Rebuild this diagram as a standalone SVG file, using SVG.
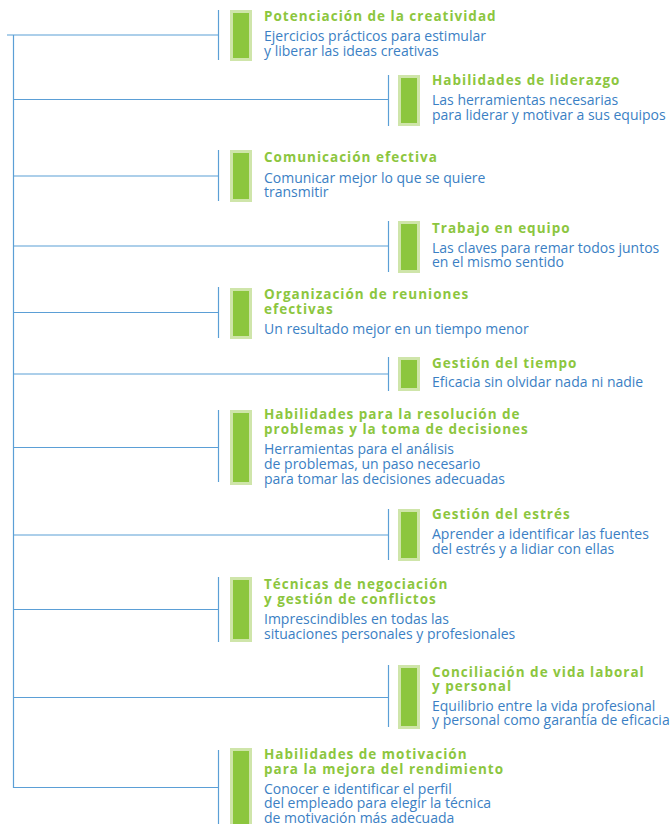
<svg xmlns="http://www.w3.org/2000/svg" width="671" height="824" viewBox="0 0 671 824">
<style>
.ln{stroke:#5b9fd6;stroke-width:1.2;fill:none}
.bar{fill:#8cc63e;stroke:#cfe5aa;stroke-width:3}
.t{font-family:"Open Sans","DejaVu Sans",sans-serif;font-weight:700;font-size:13.5px;letter-spacing:1px;fill:#8cc63e}
.d{font-family:"Open Sans","DejaVu Sans",sans-serif;font-weight:400;font-size:14px;fill:#3b7fc4}
</style>
<rect width="671" height="824" fill="#ffffff"/>
<g id="connectors">
<line class="ln" x1="13.5" y1="35" x2="13.5" y2="788"/>
<line class="ln" x1="7" y1="35" x2="218" y2="35"/>
<line class="ln" x1="13.5" y1="99.5" x2="388" y2="99.5"/>
<line class="ln" x1="13.5" y1="176" x2="218" y2="176"/>
<line class="ln" x1="13.5" y1="246" x2="388" y2="246"/>
<line class="ln" x1="13.5" y1="312.5" x2="218" y2="312.5"/>
<line class="ln" x1="13.5" y1="374" x2="388" y2="374"/>
<line class="ln" x1="13.5" y1="447.5" x2="218" y2="447.5"/>
<line class="ln" x1="13.5" y1="535" x2="388" y2="535"/>
<line class="ln" x1="13.5" y1="609.5" x2="218" y2="609.5"/>
<line class="ln" x1="13.5" y1="697.5" x2="388" y2="697.5"/>
<line class="ln" x1="13.5" y1="787.5" x2="218" y2="787.5"/>
</g>
<g id="node1">
<line class="ln" x1="218.5" y1="10" x2="218.5" y2="60"/>
<rect class="bar" x="231.5" y="11.5" width="19" height="48"/>
<text class="t" x="264" y="20.5">Potenciación de la creatividad</text>
<text class="d" x="264" y="40.5">Ejercicios prácticos para estimular</text>
<text class="d" x="264" y="55.5">y liberar las ideas creativas</text>
</g>
<g id="node2">
<line class="ln" x1="388.5" y1="75" x2="388.5" y2="126"/>
<rect class="bar" x="399.5" y="76.5" width="19" height="48"/>
<text class="t" x="432" y="85">Habilidades de liderazgo</text>
<text class="d" x="432" y="105">Las herramientas necesarias</text>
<text class="d" x="432" y="120">para liderar y motivar a sus equipos</text>
</g>
<g id="node3">
<line class="ln" x1="218.5" y1="150" x2="218.5" y2="201"/>
<rect class="bar" x="231.5" y="151.5" width="19" height="49"/>
<text class="t" x="264" y="162">Comunicación efectiva</text>
<text class="d" x="264" y="182.5">Comunicar mejor lo que se quiere</text>
<text class="d" x="264" y="197">transmitir</text>
</g>
<g id="node4">
<line class="ln" x1="388.5" y1="221" x2="388.5" y2="272"/>
<rect class="bar" x="399.5" y="222.5" width="19" height="49"/>
<text class="t" x="432" y="232.5">Trabajo en equipo</text>
<text class="d" x="432" y="252.5">Las claves para remar todos juntos</text>
<text class="d" x="432" y="267">en el mismo sentido</text>
</g>
<g id="node5">
<line class="ln" x1="218.5" y1="287" x2="218.5" y2="338"/>
<rect class="bar" x="231.5" y="289.5" width="19" height="48"/>
<text class="t" x="264" y="299">Organización de reuniones</text>
<text class="t" x="264" y="313.5">efectivas</text>
<text class="d" x="264" y="334">Un resultado mejor en un tiempo menor</text>
</g>
<g id="node6">
<line class="ln" x1="388.5" y1="357" x2="388.5" y2="391"/>
<rect class="bar" x="399.5" y="358.5" width="19" height="31"/>
<text class="t" x="432" y="367.5">Gestión del tiempo</text>
<text class="d" x="432" y="386.5">Eficacia sin olvidar nada ni nadie</text>
</g>
<g id="node7">
<line class="ln" x1="218.5" y1="410" x2="218.5" y2="482"/>
<rect class="bar" x="231.5" y="411.5" width="19" height="72"/>
<text class="t" x="264" y="419">Habilidades para la resolución de</text>
<text class="t" x="264" y="434">problemas y la toma de decisiones</text>
<text class="d" x="264" y="454">Herramientas para el análisis</text>
<text class="d" x="264" y="469">de problemas, un paso necesario</text>
<text class="d" x="264" y="483.5">para tomar las decisiones adecuadas</text>
</g>
<g id="node8">
<line class="ln" x1="388.5" y1="509" x2="388.5" y2="560"/>
<rect class="bar" x="399.5" y="510.5" width="19" height="49"/>
<text class="t" x="432" y="519">Gestión del estrés</text>
<text class="d" x="432" y="539">Aprender a identificar las fuentes</text>
<text class="d" x="432" y="554">del estrés y a lidiar con ellas</text>
</g>
<g id="node9">
<line class="ln" x1="218.5" y1="577" x2="218.5" y2="642"/>
<rect class="bar" x="231.5" y="578.5" width="19" height="62"/>
<text class="t" x="264" y="589">Técnicas de negociación</text>
<text class="t" x="264" y="603.5">y gestión de conflictos</text>
<text class="d" x="264" y="624">Imprescindibles en todas las</text>
<text class="d" x="264" y="639">situaciones personales y profesionales</text>
</g>
<g id="node10">
<line class="ln" x1="388.5" y1="665" x2="388.5" y2="727"/>
<rect class="bar" x="399.5" y="666.5" width="19" height="61"/>
<text class="t" x="432" y="676.5">Conciliación de vida laboral</text>
<text class="t" x="432" y="690.5">y personal</text>
<text class="d" x="432" y="711">Equilibrio entre la vida profesional</text>
<text class="d" x="432" y="725">y personal como garantía de eficacia</text>
</g>
<g id="node11">
<line class="ln" x1="218.5" y1="750" x2="218.5" y2="824"/>
<rect class="bar" x="231.5" y="749.5" width="19" height="80"/>
<text class="t" x="264" y="759">Habilidades de motivación</text>
<text class="t" x="264" y="773.5">para la mejora del rendimiento</text>
<text class="d" x="264" y="793.5">Conocer e identificar el perfil</text>
<text class="d" x="264" y="808">del empleado para elegir la técnica</text>
<text class="d" x="264" y="822.5">de motivación más adecuada</text>
</g>
</svg>
